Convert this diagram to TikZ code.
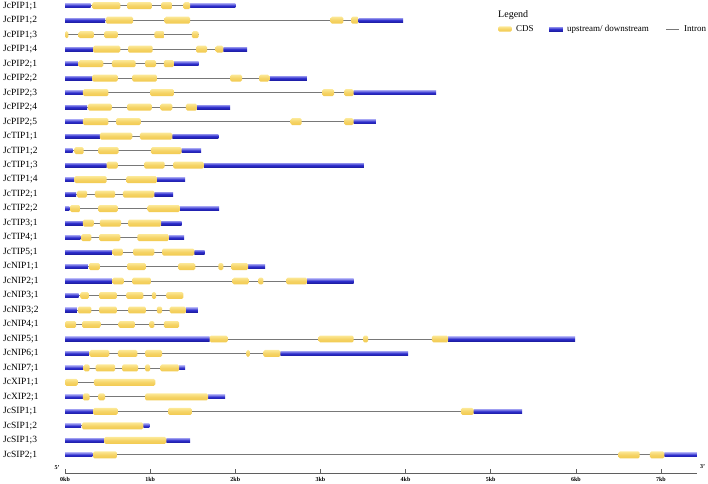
\documentclass[tikz,border=0pt]{standalone}
\usepackage{fontspec}
\setmainfont{Liberation Serif}
\definecolor{utrlight}{RGB}{140,140,235}
\definecolor{utrblue}{RGB}{45,45,205}
\definecolor{utrdark}{RGB}{30,30,165}
\definecolor{cdslight}{RGB}{252,232,150}
\definecolor{cdsdark}{RGB}{242,202,80}
\definecolor{introngray}{RGB}{120,120,120}
\definecolor{axisgray}{RGB}{95,95,95}

% one row: label and intron line
\newcommand{\gene}[3]{%
  \node[genelabel] (g#1) at (-0.728,-#1) {#2};
  \draw[intron] (0,-#1) -- (#3,-#1);
}
% untranslated parts and coding exons of row #1
\newcommand{\utr}[2]{%
  \foreach \a/\b in {#2} {\path[utr] (\a,-#1+0.14) rectangle (\b,-#1-0.14);}
}
\newcommand{\cds}[2]{%
  \foreach \a/\b in {#2} {\path[cds] (\a,-#1+0.24) rectangle (\b,-#1-0.24);}
}

\begin{document}
\begin{tikzpicture}[x=85.14pt,y=14.49pt,
  genelabel/.style={anchor=west,inner sep=0pt,font=\fontsize{9.5}{10}\selectfont},
  intron/.style={draw=introngray,line width=0.9pt},
  utr/.style={top color=utrlight,bottom color=utrdark,middle color=utrblue},
  cds/.style={top color=cdslight,bottom color=cdsdark,middle color=cdsdark!70!cdslight,rounded corners=1.5pt},
  legendtext/.style={anchor=west,inner sep=0pt,font=\fontsize{9}{10}\selectfont},
  kblabel/.style={inner sep=0pt,font=\fontsize{6}{7}\selectfont\bfseries}]
\useasboundingbox (-0.7635,-0.6066) rectangle (7.5522,-33.94);

% PIP
\gene{1}{JcPIP1;1}{2.00}
\utr{1}{0/0.30,1.47/2.00}
\cds{1}{0.32/0.65,0.73/1.02,1.13/1.26,1.39/1.47}
\gene{2}{JcPIP1;2}{3.97}
\utr{2}{0/0.47,3.45/3.97}
\cds{2}{0.48/0.80,1.17/1.47,3.12/3.27,3.36/3.45}
\gene{3}{JcPIP1;3}{1.57}
\cds{3}{0/0.04,0.16/0.34,0.46/0.62,1.05/1.17,1.49/1.57}
\gene{4}{JcPIP1;4}{2.14}
\utr{4}{0/0.33,1.86/2.14}
\cds{4}{0.33/0.65,0.74/1.03,1.54/1.67,1.77/1.86}
\gene{5}{JcPIP2;1}{1.57}
\utr{5}{0/0.15,1.28/1.57}
\cds{5}{0.16/0.45,0.55/0.83,0.94/1.07,1.16/1.28}
\gene{6}{JcPIP2;2}{2.84}
\utr{6}{0/0.32,2.40/2.84}
\cds{6}{0.32/0.62,0.79/1.08,1.94/2.08,2.28/2.40}
\gene{7}{JcPIP2;3}{4.36}
\utr{7}{0/0.21,3.39/4.36}
\cds{7}{0.21/0.51,1.00/1.28,3.02/3.16,3.28/3.39}
\gene{8}{JcPIP2;4}{1.94}
\utr{8}{0/0.26,1.55/1.94}
\cds{8}{0.27/0.55,0.73/1.02,1.12/1.26,1.42/1.55}
\gene{9}{JcPIP2;5}{3.65}
\utr{9}{0/0.21,3.39/3.65}
\cds{9}{0.21/0.51,0.60/0.89,2.65/2.78,3.28/3.39}

% TIP
\gene{10}{JcTIP1;1}{1.80}
\utr{10}{0/0.41,1.26/1.80}
\cds{10}{0.41/0.79,0.88/1.26}
\gene{11}{JcTIP1;2}{1.60}
\utr{11}{0/0.09,1.37/1.60}
\cds{11}{0.11/0.22,0.39/0.63,1.01/1.37}
\gene{12}{JcTIP1;3}{3.51}
\utr{12}{0/0.49,1.63/3.51}
\cds{12}{0.49/0.62,0.93/1.17,1.27/1.63}
\gene{13}{JcTIP1;4}{1.41}
\utr{13}{0/0.11,1.08/1.41}
\cds{13}{0.11/0.49,0.72/1.08}
\gene{14}{JcTIP2;1}{1.27}
\utr{14}{0/0.13,1.05/1.27}
\cds{14}{0.14/0.26,0.35/0.59,0.68/1.05}
\gene{15}{JcTIP2;2}{1.81}
\utr{15}{0/0.05,1.35/1.81}
\cds{15}{0.06/0.18,0.39/0.62,0.97/1.35}
\gene{16}{JcTIP3;1}{1.37}
\utr{16}{0/0.21,1.13/1.37}
\cds{16}{0.21/0.34,0.41/0.66,0.74/1.13}
\gene{17}{JcTIP4;1}{1.40}
\utr{17}{0/0.18,1.22/1.40}
\cds{17}{0.19/0.31,0.40/0.65,0.85/1.22}
\gene{18}{JcTIP5;1}{1.64}
\utr{18}{0/0.55,1.52/1.64}
\cds{18}{0.56/0.68,0.80/1.05,1.14/1.52}

% NIP
\gene{19}{JcNIP1;1}{2.35}
\utr{19}{0/0.27,2.15/2.35}
\cds{19}{0.28/0.41,0.73/0.95,1.33/1.53,1.80/1.86,1.95/2.15}
\gene{20}{JcNIP2;1}{3.39}
\utr{20}{0/0.55,2.84/3.39}
\cds{20}{0.56/0.69,0.79/1.01,1.97/2.16,2.27/2.33,2.60/2.84}
\gene{21}{JcNIP3;1}{1.39}
\utr{21}{0/0.16}
\cds{21}{0.18/0.28,0.40/0.61,0.72/0.92,1.02/1.07,1.19/1.39}
\gene{22}{JcNIP3;2}{1.56}
\utr{22}{0/0.14,1.42/1.56}
\cds{22}{0.15/0.31,0.40/0.61,0.74/0.95,1.08/1.14,1.23/1.42}
\gene{23}{JcNIP4;1}{1.34}
\cds{23}{0/0.13,0.20/0.42,0.63/0.82,0.99/1.05,1.16/1.34}
\gene{24}{JcNIP5;1}{5.99}
\utr{24}{0/1.70,4.50/5.99}
\cds{24}{1.70/1.91,2.98/3.39,3.50/3.56,4.31/4.50}
\gene{25}{JcNIP6;1}{4.03}
\utr{25}{0/0.28,2.53/4.03}
\cds{25}{0.29/0.52,0.62/0.85,0.94/1.14,2.13/2.17,2.33/2.53}
\gene{26}{JcNIP7;1}{1.41}
\utr{26}{0/0.21,1.34/1.41}
\cds{26}{0.22/0.29,0.36/0.59,0.67/0.86,0.94/1.00,1.12/1.34}

% XIP
\gene{27}{JcXIP1;1}{1.06}
\cds{27}{0/0.15,0.34/1.06}
\gene{28}{JcXIP2;1}{1.88}
\utr{28}{0/0.21,1.68/1.88}
\cds{28}{0.21/0.29,0.39/0.47,0.94/1.68}

% SIP
\gene{29}{JcSIP1;1}{5.37}
\utr{29}{0/0.33,4.80/5.37}
\cds{29}{0.33/0.62,1.21/1.49,4.65/4.80}
\gene{30}{JcSIP1;2}{0.99}
\utr{30}{0/0.19,0.92/0.99}
\cds{30}{0.20/0.92}
\gene{31}{JcSIP1;3}{1.47}
\utr{31}{0/0.46,1.19/1.47}
\cds{31}{0.46/1.19}
\gene{32}{JcSIP2;1}{7.42}
\utr{32}{0/0.32,7.04/7.42}
\cds{32}{0.33/0.61,6.50/6.75,6.87/7.04}

% scale
\coordinate (ax0) at (0,-33.25);
\coordinate (ax1) at (7.42,-33.25);
\draw[axisgray,line width=0.8pt] (ax0) -- (ax1);
\foreach \k in {0,...,7} {
  \draw[axisgray,line width=0.6pt] (\k,-33.25) -- (\k,-32.97);
  \node[kblabel] (kb\k) at (\k,-33.68) {\k kb};
}
\node[kblabel] (five) at (-0.094,-32.84) {5'};
\node[kblabel] (three) at (7.49,-32.77) {3'};

% legend
\node[anchor=west,inner sep=0pt,font=\fontsize{10}{11}\selectfont] (legend) at (5.086,-1.642) {Legend};
\path[cds] (5.086,-2.43) rectangle (5.25,-2.79);
\node[legendtext] (lcds) at (5.297,-2.608) {CDS};
\path[utr] (5.685,-2.47) rectangle (5.849,-2.75);
\node[legendtext] (lutr) at (5.896,-2.608) {upstream/ downstream};
\coordinate (li0) at (7.059,-2.608);
\coordinate (li1) at (7.212,-2.608);
\draw[intron] (li0) -- (li1);
\node[legendtext] (lintron) at (7.27,-2.608) {Intron};
\end{tikzpicture}
\end{document}
